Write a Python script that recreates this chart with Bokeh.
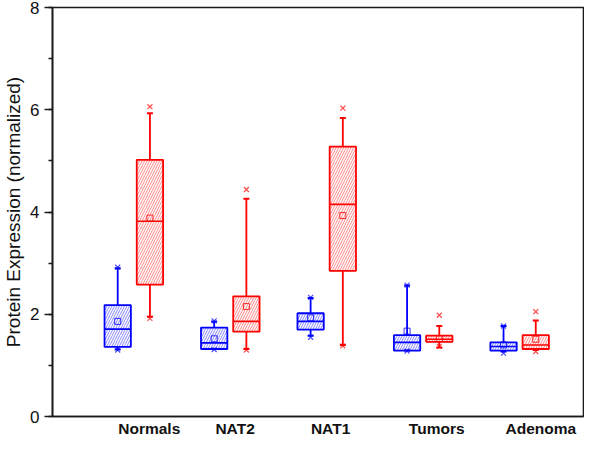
from bokeh.plotting import figure
from bokeh.models import FixedTicker, SingleIntervalTicker, Range1d
from bokeh.embed import file_html
from bokeh.resources import INLINE

categories = ["Normals", "NAT2", "NAT1", "Tumors", "Adenoma"]

# blue series
blue_q1 = [1.36, 1.32, 1.70, 1.29, 1.29]
blue_med = [1.71, 1.44, 1.86, 1.45, 1.37]
blue_q3 = [2.18, 1.74, 2.02, 1.59, 1.45]
blue_mean = [1.86, 1.52, 1.93, 1.67, 1.40]
blue_whi_lo = [1.31, 1.32, 1.58, 1.29, 1.27]
blue_whi_hi = [2.90, 1.86, 2.32, 2.56, 1.77]
blue_min = [1.30, 1.31, 1.55, 1.28, 1.24]
blue_max = [2.92, 1.87, 2.33, 2.57, 1.77]

# red series
red_q1 = [2.58, 1.66, 2.85, 1.46, 1.32]
red_med = [3.82, 1.86, 4.15, 1.51, 1.40]
red_q3 = [5.02, 2.35, 5.28, 1.58, 1.59]
red_mean = [3.88, 2.15, 3.93, 1.52, 1.51]
red_whi_lo = [1.95, 1.32, 1.40, 1.35, 1.30]
red_whi_hi = [5.93, 4.26, 5.84, 1.77, 1.88]
red_min = [1.92, 1.30, 1.38, 1.37, 1.27]
red_max = [6.06, 4.44, 6.03, 1.98, 2.05]

y_ticks_interval = 2

# layout (positions in axis units, 100 per group)
group_pos = [100, 200, 300, 400, 500]
label_offset = [16, 5, 4, 14, 22]
box_w = 27.3
series_off = 16.7

p = figure(width=584, height=439, output_backend="svg", toolbar_location=None,
           x_range=Range1d(15.7, 566.2), y_range=Range1d(0, 8),
           min_border_left=44, min_border_right=1, min_border_top=7,
           min_border_bottom=10)
p.grid.visible = False
p.outline_line_color = "#1a1a1a"
p.outline_line_width = 1.6
p.background_fill_color = "white"
p.border_fill_color = "white"


def draw(color, off, q1, med, q3, mean, wlo, whi, mn, mx):
    x = [g + off for g in group_pos]
    xl = [v - box_w / 2 for v in x]
    xr = [v + box_w / 2 for v in x]
    p.segment(x0=x, y0=q3, x1=x, y1=whi, line_color=color, line_width=1.8)
    p.segment(x0=x, y0=q1, x1=x, y1=wlo, line_color=color, line_width=1.8)
    p.vbar(x=x, width=box_w, bottom=q1, top=q3, fill_color="white",
           line_color=color, line_width=1.8, hatch_pattern="/",
           hatch_color=color, hatch_alpha=0.6, hatch_scale=5, hatch_weight=0.8)
    p.segment(x0=xl, y0=med, x1=xr, y1=med, line_color=color, line_width=1.6)
    p.scatter(x=x, y=whi, marker="dash", size=6, line_color=color, line_width=2)
    p.scatter(x=x, y=wlo, marker="dash", size=6, line_color=color, line_width=2)
    p.scatter(x=x, y=mean, marker="square", size=6, fill_color=None,
              line_color=color, line_width=1, line_alpha=0.8)
    p.scatter(x=x, y=mx, marker="x", size=7, line_color=color, line_width=1.2,
              line_alpha=0.7)
    p.scatter(x=x, y=mn, marker="x", size=7, line_color=color, line_width=1.2,
              line_alpha=0.7)


draw("#0000ff", -series_off, blue_q1, blue_med, blue_q3, blue_mean,
     blue_whi_lo, blue_whi_hi, blue_min, blue_max)
draw("#ff0000", series_off, red_q1, red_med, red_q3, red_mean,
     red_whi_lo, red_whi_hi, red_min, red_max)

# y axis
ya = p.yaxis[0]
ya.ticker = SingleIntervalTicker(interval=y_ticks_interval, num_minor_ticks=2)
ya.axis_label = "Protein Expression (normalized)"
ya.axis_label_text_font = "Liberation Sans"
ya.axis_label_text_font_style = "normal"
ya.axis_label_text_font_size = "19px"
ya.axis_label_text_color = "#111111"
ya.axis_label_standoff = 3
ya.major_label_text_font = "Liberation Sans"
ya.major_label_text_font_size = "17px"
ya.major_label_text_color = "#111111"
ya.major_label_standoff = 5
ya.major_tick_out = 8
ya.major_tick_in = 0
ya.minor_tick_out = 4
ya.minor_tick_in = 0
ya.axis_line_width = 1.6
ya.axis_line_color = "#1a1a1a"
ya.major_tick_line_width = 1.5
ya.major_tick_line_color = "#1a1a1a"
ya.minor_tick_line_width = 1.5
ya.minor_tick_line_color = "#1a1a1a"

# x axis (category labels)
label_ticks = [g + o for g, o in zip(group_pos, label_offset)]
xa = p.xaxis[0]
xa.ticker = FixedTicker(ticks=label_ticks, minor_ticks=[])
xa.major_label_overrides = {t: c for t, c in zip(label_ticks, categories)}
xa.major_tick_out = 0
xa.major_tick_in = 0
xa.minor_tick_out = 0
xa.minor_tick_in = 0
xa.major_label_standoff = 3
xa.axis_label_standoff = 0
xa.major_label_text_font = "Liberation Sans"
xa.major_label_text_font_style = "bold"
xa.major_label_text_font_size = "15.5px"
xa.major_label_text_color = "#111111"
xa.axis_line_width = 1.6
xa.axis_line_color = "#1a1a1a"

open("out.html", "w").write(file_html(p, INLINE))
